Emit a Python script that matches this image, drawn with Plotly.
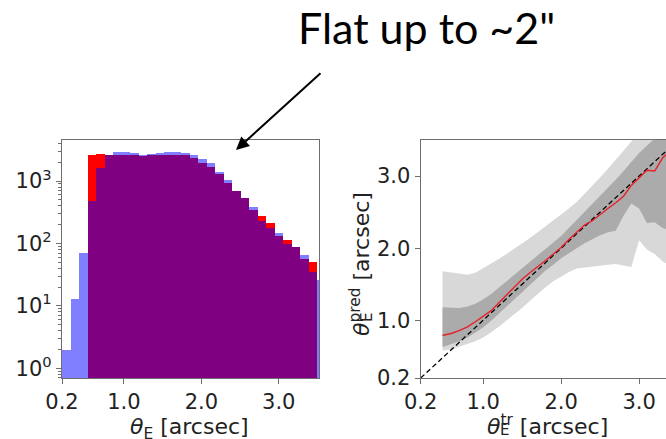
import plotly.graph_objects as go

# ---------------- data ----------------
# histogram (left panel): bin left edges, width 0.11 arcsec
bin_width = 0.11
bin_left = [round(0.2 + bin_width * i, 3) for i in range(31)]
hist_pred = [0, 0, 0, 2650, 2720, 2590, 2590, 2590, 2590, 2520, 2590, 2590, 2650, 2650,
             2620, 2318, 1972, 1683, 1300, 922, 702, 530, 344, 276, 215, 132, 114, 87, 56, 51, 0]
hist_true = [2, 13, 71, 475, 1615, 2650, 2930, 2930, 2820, 2650, 2750, 2820, 2930, 2930,
             2850, 2620, 2235, 1928, 1415, 1042, 702, 530, 380, 232, 175, 146, 98, 87, 65, 35, 26]

# right panel: binned prediction vs truth
theta_tr = [0.48, 0.6, 0.7, 0.8, 0.9, 1.0, 1.1, 1.2, 1.3, 1.4, 1.5, 1.6, 1.7, 1.8, 1.9, 2.0,
            2.1, 2.2, 2.3, 2.4, 2.5, 2.6, 2.7, 2.8, 2.9, 3.0, 3.1, 3.2, 3.3, 3.4, 3.5]
median = [0.79, 0.82, 0.86, 0.91, 0.98, 1.05, 1.13, 1.24, 1.35, 1.46, 1.57, 1.66, 1.74, 1.83,
          1.92, 2.01, 2.12, 2.22, 2.32, 2.38, 2.47, 2.55, 2.63, 2.72, 2.87, 2.97, 3.08, 3.07,
          3.25, 3.35, 3.45]
sig1_up = [1.18, 1.17, 1.17, 1.19, 1.23, 1.29, 1.36, 1.45, 1.54, 1.63, 1.72, 1.81, 1.89, 1.98,
           2.07, 2.17, 2.28, 2.39, 2.51, 2.61, 2.73, 2.84, 2.95, 3.07, 3.19, 3.32, 3.42, 3.52,
           3.6, 3.7, 3.8]
sig1_lo = [0.63, 0.67, 0.71, 0.76, 0.83, 0.90, 0.99, 1.08, 1.18, 1.28, 1.39, 1.49, 1.59, 1.69,
           1.77, 1.86, 1.93, 2.00, 2.07, 2.13, 2.18, 2.22, 2.24, 2.45, 2.62, 2.55, 2.35, 2.36,
           2.28, 2.25, 2.2]
sig2_up = [1.68, 1.66, 1.64, 1.63, 1.66, 1.72, 1.78, 1.85, 1.92, 1.99, 2.06, 2.14, 2.22, 2.30,
           2.38, 2.46, 2.55, 2.64, 2.75, 2.87, 2.98, 3.10, 3.22, 3.35, 3.48, 3.6, 3.7, 3.8,
           3.9, 4.0, 4.1]
sig2_lo = [0.58, 0.60, 0.63, 0.67, 0.71, 0.76, 0.83, 0.91, 0.99, 1.08, 1.17, 1.27, 1.37, 1.46,
           1.54, 1.61, 1.67, 1.72, 1.74, 1.75, 1.76, 1.77, 1.78, 1.76, 1.74, 2.11, 1.98, 1.92,
           1.82, 1.75, 1.70]
diag = [0.2, 3.5]

hist_yticks = [1, 10, 100, 1000]
hist_yticktext = ["10<sup>0</sup>", "10<sup>1</sup>", "10<sup>2</sup>", "10<sup>3</sup>"]
lin_ticks = [0.2, 1.0, 2.0, 3.0]
lin_ticktext = ["0.2", "1.0", "2.0", "3.0"]
minor_log = [m * 10 ** e for e in range(-1, 4) for m in range(2, 10)]

# ---------------- figure ----------------
W, H = 666, 439
FONT = "DejaVu Sans"
fig = go.Figure()

fig.add_trace(go.Bar(x=bin_left, y=[v if v > 0 else None for v in hist_pred], width=bin_width,
                     offset=0, marker=dict(color="rgb(255,0,0)", line=dict(width=0)),
                     xaxis="x", yaxis="y", showlegend=False))
fig.add_trace(go.Bar(x=bin_left, y=hist_true, width=bin_width, offset=0,
                     marker=dict(color="rgba(0,0,255,0.5)", line=dict(width=0)),
                     xaxis="x", yaxis="y", showlegend=False))

fig.add_trace(go.Scatter(x=theta_tr + theta_tr[::-1], y=sig2_up + sig2_lo[::-1], fill="toself",
                         fillcolor="#d8d8d8", line=dict(width=0), mode="lines",
                         xaxis="x2", yaxis="y2", showlegend=False))
fig.add_trace(go.Scatter(x=theta_tr + theta_tr[::-1], y=sig1_up + sig1_lo[::-1], fill="toself",
                         fillcolor="#ababab", line=dict(width=0), mode="lines",
                         xaxis="x2", yaxis="y2", showlegend=False))
fig.add_trace(go.Scatter(x=diag, y=diag, mode="lines", line=dict(color="black", width=1.3, dash="5px,3px"),
                         xaxis="x2", yaxis="y2", showlegend=False))
fig.add_trace(go.Scatter(x=theta_tr, y=median, mode="lines", line=dict(color="#e8202a", width=1.4),
                         xaxis="x2", yaxis="y2", showlegend=False))

ydom = [1 - 378 / H, 1 - 140 / H]
axis_common = dict(showline=True, linecolor="#6e6e6e", linewidth=1.2, ticks="outside",
                   ticklen=5, tickcolor="#6e6e6e", showgrid=False, zeroline=False,
                   automargin=False, tickfont=dict(family=FONT, size=21, color="#222"))

fig.update_layout(
    width=W, height=H, margin=dict(l=0, r=0, t=0, b=0, autoexpand=False),
    paper_bgcolor="white", plot_bgcolor="white", barmode="overlay", bargap=0,
    xaxis=dict(domain=[62 / W, 319 / W], range=[0.2, 3.52], tickvals=lin_ticks,
               ticktext=lin_ticktext, mirror=True, anchor="y", **axis_common),
    yaxis=dict(domain=ydom, type="log", range=[-0.155, 3.659], tickvals=hist_yticks,
               ticktext=hist_yticktext, mirror=True, anchor="x",
               minor=dict(tickvals=minor_log, ticks="outside", ticklen=2.5, tickcolor="#6e6e6e"),
               **axis_common),
    xaxis2=dict(domain=[420.7 / W, 1.0], range=[0.2, 0.2 + (666 - 420.7) / 78], tickvals=lin_ticks,
                ticktext=lin_ticktext, mirror=True, anchor="y2", **axis_common),
    yaxis2=dict(domain=ydom, range=[0.2, 3.5], tickvals=lin_ticks, ticktext=lin_ticktext,
                anchor="x2", **axis_common),
)

def px(x):
    return x / W

def py(y):
    return 1 - y / H

ann = []
lab = dict(family=FONT, size=22, color="#222")
sub = dict(family=FONT, size=15, color="#222")
ann.append(dict(text="<i>θ</i><sub>E</sub> [arcsec]", x=px(189), y=py(428), xref="paper", yref="paper",
                showarrow=False, font=lab, xanchor="center", yanchor="middle"))
ann.append(dict(text="<i>θ</i><sup>tr</sup> [arcsec]", x=px(547), y=py(425), xref="paper", yref="paper",
                showarrow=False, font=lab, xanchor="center", yanchor="middle"))
ann.append(dict(text="E", x=px(504), y=py(430), xref="paper", yref="paper",
                showarrow=False, font=sub, xanchor="center", yanchor="middle"))
ann.append(dict(text="<i>θ</i><sup>pred</sup> [arcsec]", x=px(360), y=py(264), xref="paper", yref="paper",
                showarrow=False, font=lab, textangle=-90, xanchor="center", yanchor="middle"))
ann.append(dict(text="E", x=px(367), y=py(318), xref="paper", yref="paper",
                showarrow=False, font=sub, textangle=-90, xanchor="center", yanchor="middle"))
ann.append(dict(text="Flat up to ~2\"", x=px(426), y=py(27), xref="paper", yref="paper",
                showarrow=False, font=dict(family="Lato", size=43, color="black"),
                xanchor="center", yanchor="middle"))
ann.append(dict(text="", x=px(236), y=py(150), xref="paper", yref="paper", showarrow=True,
                ax=86, ay=-78, arrowhead=2, arrowsize=1.3, arrowwidth=2, arrowcolor="black"))
fig.update_layout(annotations=ann)

fig.write_html("out.html")
